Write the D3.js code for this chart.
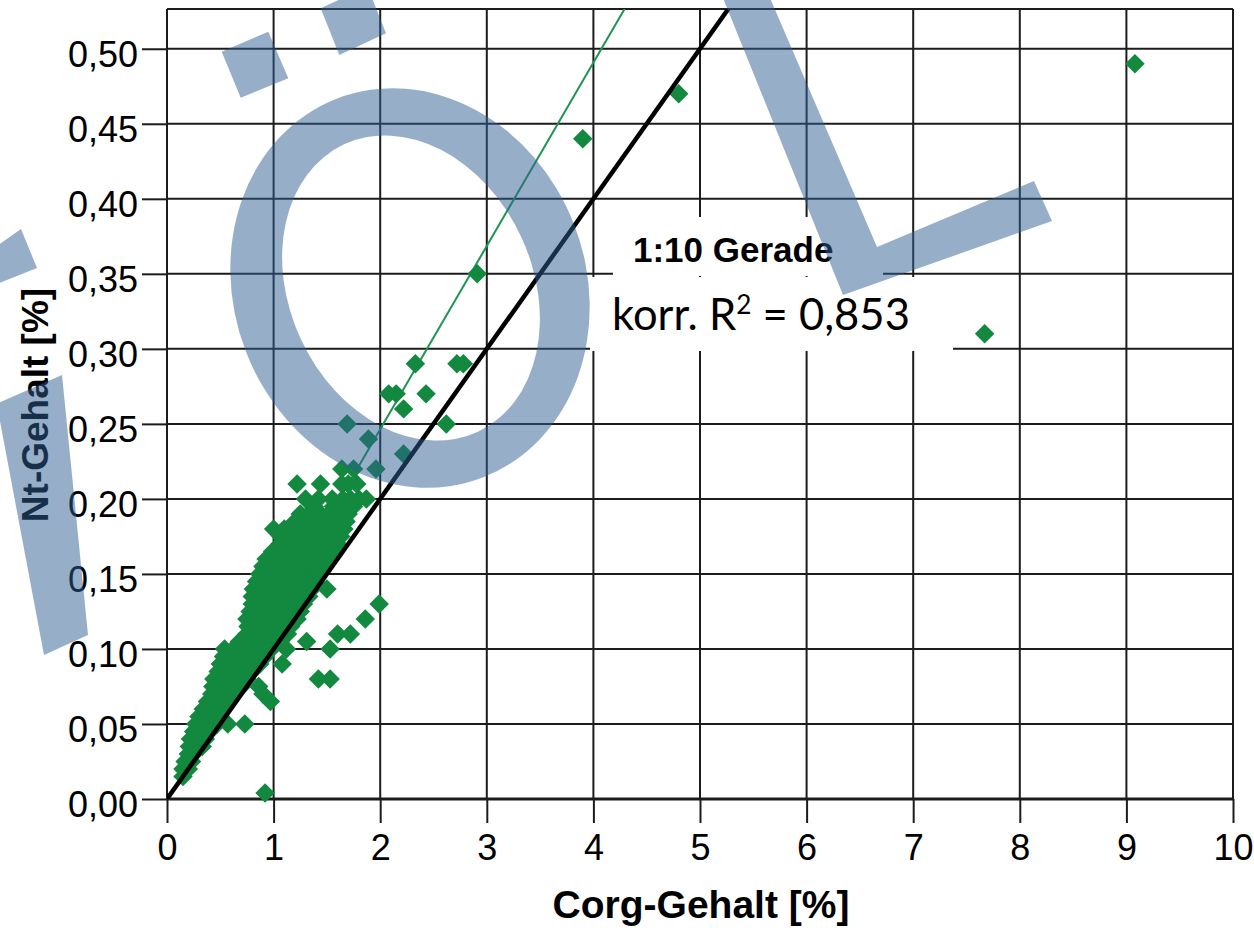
<!DOCTYPE html>
<html lang="de">
<head>
  <meta charset="UTF-8">
  <title>Corg- und Nt-Gehalt</title>
  <script src="https://cdn.jsdelivr.net/npm/d3@7"></script>
  <style>
    html, body { margin: 0; padding: 0; background: #fff; }
    svg { display: block; font-family: "Liberation Sans", Arial, sans-serif; }
    .grid line { stroke: #1c1c1c; stroke-width: 2; }
    .axis line { stroke: #1c1c1c; stroke-width: 2; }
    .axis text { font-size: 36px; fill: #000; }
    .title { font-size: 38px; font-weight: bold; fill: #000; }
  </style>
</head>
<body>
  <div class="chart"></div>

  <script>
    // N levels (y) and the Corg values (x) of the samples on each level
    const ntLevels = [0.004, 0.015, 0.02, 0.025, 0.03, 0.035, 0.04, 0.045, 0.05, 0.055, 0.06, 0.065, 0.07, 0.075,
      0.08, 0.085, 0.09, 0.095, 0.10, 0.105, 0.11, 0.115, 0.12, 0.125, 0.13, 0.135, 0.14, 0.145, 0.15, 0.155,
      0.16, 0.165, 0.17, 0.175, 0.18, 0.185, 0.19, 0.195, 0.20, 0.21, 0.22, 0.23, 0.24, 0.25, 0.26, 0.27,
      0.29, 0.31, 0.35, 0.44, 0.47, 0.49];
    const corgByLevel = [
      [0.92],
      [0.15],
      [0.15, 0.2],
      [0.17, 0.23],
      [0.2, 0.25],
      [0.21, 0.28, 0.33],
      [0.22, 0.29, 0.36],
      [0.25, 0.32, 0.4],
      [0.27, 0.34, 0.41, 0.47, 0.57, 0.73],
      [0.3, 0.37, 0.44, 0.5],
      [0.34, 0.41, 0.48, 0.53],
      [0.38, 0.45, 0.52, 0.58, 0.97],
      [0.42, 0.49, 0.56, 0.63, 0.9],
      [0.43, 0.5, 0.57, 0.64, 0.7, 0.86],
      [0.44, 0.52, 0.6, 0.68, 0.75, 1.42, 1.53],
      [0.48, 0.56, 0.64, 0.72, 0.8],
      [0.5, 0.58, 0.66, 0.74, 0.81, 0.87, 1.08],
      [0.53, 0.61, 0.69, 0.77, 0.85, 0.92],
      [0.54, 0.62, 0.7, 0.78, 0.86, 0.94, 0.98, 1.12, 1.53],
      [0.68, 0.76, 0.84, 0.92, 1.0, 1.06, 1.31],
      [0.75, 0.83, 0.91, 0.99, 1.06, 1.13, 1.6, 1.72],
      [0.76, 0.84, 0.92, 1.0, 1.08, 1.16],
      [0.75, 0.83, 0.91, 0.99, 1.07, 1.15, 1.22, 1.86],
      [0.78, 0.86, 0.94, 1.02, 1.1, 1.18, 1.25],
      [0.8, 0.88, 0.96, 1.04, 1.12, 1.2, 1.28, 1.99],
      [0.8, 0.88, 0.96, 1.04, 1.12, 1.2, 1.27, 1.33],
      [0.81, 0.89, 0.97, 1.05, 1.13, 1.21, 1.29, 1.36, 1.5],
      [0.84, 0.92, 1.0, 1.08, 1.16, 1.24, 1.32, 1.39],
      [0.87, 0.95, 1.03, 1.11, 1.19, 1.27, 1.35, 1.43],
      [0.9, 0.98, 1.06, 1.14, 1.22, 1.3, 1.38, 1.46],
      [0.93, 1.01, 1.09, 1.17, 1.25, 1.33, 1.41, 1.49, 1.53],
      [0.99, 1.07, 1.15, 1.23, 1.31, 1.39, 1.47, 1.55],
      [1.06, 1.14, 1.22, 1.3, 1.38, 1.46, 1.54, 1.6],
      [1.07, 1.16, 1.24, 1.32, 1.4, 1.48, 1.56, 1.63],
      [1.0, 1.1, 1.18, 1.26, 1.34, 1.42, 1.5, 1.58, 1.66],
      [1.2, 1.28, 1.36, 1.44, 1.52, 1.6, 1.68],
      [1.25, 1.33, 1.44, 1.52, 1.6, 1.7],
      [1.38, 1.56, 1.66, 1.75],
      [1.3, 1.42, 1.55, 1.65, 1.72, 1.8, 1.87],
      [1.22, 1.44, 1.64, 1.7, 1.78],
      [1.64, 1.75, 1.96],
      [2.22],
      [1.89],
      [1.69, 2.62],
      [2.22],
      [2.08, 2.15, 2.43],
      [2.33, 2.72, 2.78],
      [7.67],
      [2.91],
      [3.9],
      [4.8],
      [9.08]
    ];

    const xTicks = [0, 1, 2, 3, 4, 5, 6, 7, 8, 9, 10];
    const yTicks = [0, 0.05, 0.10, 0.15, 0.20, 0.25, 0.30, 0.35, 0.40, 0.45, 0.50];

    // 1:10 line and fitted line
    const ratioSlope = 0.1;
    const regSlope = 0.1222;
    const regIntercept = 0.002;
    const regRange = [0.15, 9.08];

    const lineLabel = "1:10 Gerade";
    const r2Value = "0,853";

    const width = 1254, height = 928;
    const x = d3.scaleLinear().domain([0, 10]).range([167, 1233]);
    const y = d3.scaleLinear().domain([0, 0.5265]).range([799, 9]);
    const comma = d => d3.format(".2f")(d).replace(".", ",");

    const svg = d3.select(".chart")
      .append("svg")
      .attr("width", width)
      .attr("height", height);

    //grid
    const grid = svg.append("g").attr("class", "grid");
    grid.selectAll(".v").data(xTicks).enter().append("line")
      .attr("x1", d => x(d)).attr("x2", d => x(d))
      .attr("y1", y.range()[1]).attr("y2", y.range()[0]);
    grid.selectAll(".h").data(yTicks.concat([y.domain()[1]])).enter().append("line")
      .attr("x1", x.range()[0]).attr("x2", x.range()[1])
      .attr("y1", d => y(d)).attr("y2", d => y(d));

    //axes
    const yAxis = svg.append("g").attr("class", "axis")
      .attr("transform", `translate(${x(0)},0)`)
      .call(d3.axisLeft(y).tickValues(yTicks).tickSize(25).tickPadding(4).tickFormat(comma));
    yAxis.select(".domain").remove();
    yAxis.selectAll("text").attr("dy", "0.49em");

    const xAxis = svg.append("g").attr("class", "axis")
      .attr("transform", `translate(0,${y(0)})`)
      .call(d3.axisBottom(x).tickValues(xTicks).tickSize(24).tickPadding(11).tickFormat(d3.format("d")));
    xAxis.select(".domain").remove();
    svg.selectAll(".axis").attr("font-family", null).attr("font-size", null);

    svg.append("line")
      .attr("x1", x(0)).attr("x2", x(10))
      .attr("y1", y(0)).attr("y2", y(0))
      .attr("stroke", "#1c1c1c").attr("stroke-width", 3);

    svg.append("text").attr("class", "title")
      .attr("x", 701).attr("y", 918)
      .attr("text-anchor", "middle")
      .style("font-size", "39px")
      .text("Corg-Gehalt [%]");

    svg.append("text").attr("class", "title")
      .attr("transform", "translate(48,405) rotate(-90)")
      .attr("text-anchor", "middle")
      .style("font-size", "37px")
      .text("Nt-Gehalt [%]");

    //lines
    svg.append("clipPath").attr("id", "plot")
      .append("rect")
      .attr("x", x(0)).attr("y", y.range()[1])
      .attr("width", x(10) - x(0)).attr("height", y.range()[0] - y.range()[1]);

    const line = d3.line().x(d => x(d[0])).y(d => y(d[1]));

    svg.append("path")
      .attr("clip-path", "url(#plot)")
      .attr("d", line(regRange.map(c => [c, regSlope * c + regIntercept])))
      .attr("stroke", "#1e9552").attr("stroke-width", 2).attr("fill", "none");

    //points
    const points = [];
    ntLevels.forEach((n, i) => corgByLevel[i].forEach(c => points.push({ corg: c, nt: n })));

    const diamond = d3.symbol().type(d3.symbolSquare).size(190);
    svg.append("g").selectAll("path")
      .data(points).enter().append("path")
      .attr("d", diamond)
      .attr("transform", d => `translate(${x(d.corg)},${y(d.nt)}) rotate(45)`)
      .attr("fill", "#12893f");

    svg.append("path")
      .attr("clip-path", "url(#plot)")
      .attr("d", line([[0, 0], [10, 10 * ratioSlope]]))
      .attr("stroke", "#000").attr("stroke-width", 4.5).attr("fill", "none");

    //label boxes
    svg.append("rect").attr("x", 613).attr("y", 217).attr("width", 270).attr("height", 59).attr("fill", "#fff");
    svg.append("rect").attr("x", 590).attr("y", 277).attr("width", 363).attr("height", 74).attr("fill", "#fff");

    svg.append("text")
      .attr("x", 633).attr("y", 262)
      .style("font-size", "35px").style("font-weight", "bold")
      .text(lineLabel);

    const r2 = svg.append("text")
      .attr("x", 612).attr("y", 330)
      .style("font-family", "Lato, 'Open Sans', sans-serif")
      .style("font-size", "40px");
    r2.append("tspan").text("korr. R");
    r2.append("tspan").attr("dy", -15).style("font-size", "0.6em").text("2");
    r2.append("tspan").attr("dy", 15).text(" = " + r2Value);
    const len = r2.node().getComputedTextLength();
    r2.style("font-size", (40 * 298 / len) + "px");
    r2.select("tspan:nth-child(2)").attr("dy", -15 * 298 / len);
    r2.select("tspan:nth-child(3)").attr("dy", 15 * 298 / len);

    //watermark on top
    const mark = svg.append("g").attr("fill", "rgba(48,93,148,0.5)");
    const poly = d3.line();
    [
      [[221.7, 51.7], [268.3, 31.7], [288.3, 78.3], [240.7, 97.7]],
      [[320.7, 8.3], [367.4, -13.4], [386, 33.3], [339.3, 55]],
      [[-6, 248], [21, 229], [37, 268], [-6, 285]],
      [[-4, 404], [62, 375], [88, 635], [44, 655], [-4, 400]],
      [[723, -2], [770, -2], [877, 247], [1034, 181], [1052, 221], [843, 295]]
    ].forEach(p => mark.append("path").attr("d", poly(p) + "Z"));

    function ellipse(cx, cy, rx, ry, deg) {
      const a = deg * Math.PI / 180;
      const dx = rx * Math.cos(a), dy = rx * Math.sin(a);
      return `M${cx - dx},${cy - dy}A${rx},${ry} ${deg} 1 0 ${cx + dx},${cy + dy}` +
        `A${rx},${ry} ${deg} 1 0 ${cx - dx},${cy - dy}Z`;
    }
    mark.append("path")
      .attr("fill-rule", "evenodd")
      .attr("d", ellipse(410, 288, 176, 203, -21) + ellipse(411, 288, 121.5, 158.5, -25));
  </script>
</body>
</html>
